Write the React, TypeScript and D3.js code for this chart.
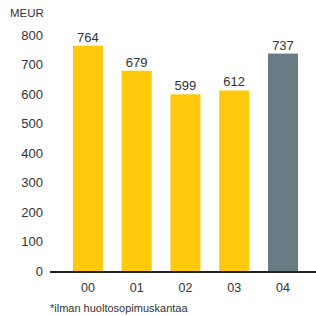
import * as d3 from "d3";
import { useEffect, useRef } from "react";

const years = ["00", "01", "02", "03", "04"];
const values = [764, 679, 599, 612, 737];
const yTicks = [0, 100, 200, 300, 400, 500, 600, 700, 800];

const W = 316;
const H = 316;

const App = () => {
  const ref = useRef(null);

  useEffect(() => {
    const svg = d3.select(ref.current);
    svg.selectAll("*").remove();

    const font = "'Liberation Sans', Arial, sans-serif";
    const textColor = "#333";

    const x = d3.scaleBand()
      .domain(years)
      .range([50, 316])
      .paddingInner(0.385)
      .paddingOuter(0.42)
      .align(0.56);

    const y = d3.scaleLinear().domain([0, 800]).range([271, 35]);

    // unit label
    svg.append("text")
      .attr("x", 10)
      .attr("y", 17)
      .style("font-family", font)
      .style("font-size", "11.5px")
      .style("fill", textColor)
      .text("MEUR");

    // y tick labels
    svg.selectAll(".ytick")
      .data(yTicks)
      .enter()
      .append("text")
      .attr("x", 43)
      .attr("y", d => y(d))
      .attr("dy", "0.36em")
      .attr("text-anchor", "end")
      .style("font-family", font)
      .style("font-size", "13px")
      .style("fill", textColor)
      .text(d => d);

    // bars
    svg.selectAll(".bar")
      .data(values)
      .enter()
      .append("rect")
      .attr("x", (d, i) => x(years[i]))
      .attr("y", d => y(d))
      .attr("width", x.bandwidth())
      .attr("height", d => y(0) - y(d))
      .style("fill", (d, i) => (i === years.length - 1 ? "#687c86" : "#fec80b"));

    // value labels
    svg.selectAll(".val")
      .data(values)
      .enter()
      .append("text")
      .attr("x", (d, i) => x(years[i]) + x.bandwidth() / 2)
      .attr("y", d => y(d) - 4)
      .attr("text-anchor", "middle")
      .style("font-family", font)
      .style("font-size", "13px")
      .style("fill", textColor)
      .text(d => d);

    // baseline
    svg.append("line")
      .attr("x1", 50)
      .attr("x2", 316)
      .attr("y1", y(0) + 1)
      .attr("y2", y(0) + 1)
      .style("stroke", "#222")
      .style("stroke-width", 2);

    // x labels
    svg.selectAll(".xlab")
      .data(years)
      .enter()
      .append("text")
      .attr("x", d => x(d) + x.bandwidth() / 2)
      .attr("y", 292)
      .attr("text-anchor", "middle")
      .style("font-family", font)
      .style("font-size", "12.5px")
      .style("fill", textColor)
      .text(d => d);

    // footnote
    svg.append("text")
      .attr("x", 50)
      .attr("y", 312)
      .style("font-family", font)
      .style("font-size", "11px")
      .style("fill", textColor)
      .text("*ilman huoltosopimuskantaa");
  }, []);

  return (
    <svg
      ref={ref}
      width={W}
      height={H}
      style={{ position: "absolute", left: 0, top: 0, background: "#fff" }}
    ></svg>
  );
};

export default App;
